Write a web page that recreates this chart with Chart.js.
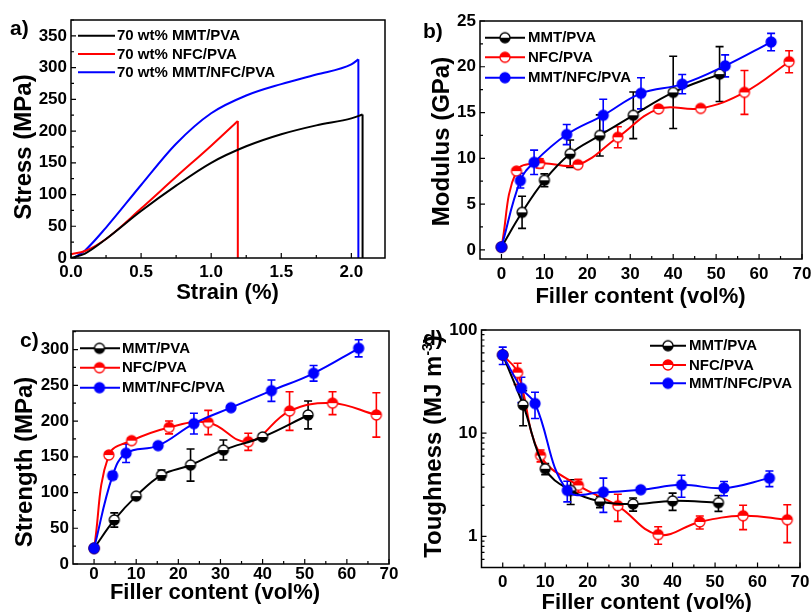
<!DOCTYPE html>
<html>
<head>
<meta charset="utf-8">
<script src="https://cdn.jsdelivr.net/npm/chart.js@4.4.1/dist/chart.umd.min.js"></script>
<style>
  html, body { margin: 0; padding: 0; background: #fff; overflow: hidden; width: 811px; height: 612px; }
  canvas { position: absolute; left: 0; top: 0; }
</style>
</head>
<body>
<canvas id="pa" width="811" height="630"></canvas>
<canvas id="pb" width="811" height="630"></canvas>
<canvas id="pc" width="811" height="630"></canvas>
<canvas id="pd" width="811" height="630"></canvas>
<script>
// ---- panel a: stress-strain curves (70 wt%) ----
const strainMMT = [0, 0.1, 0.25, 0.5, 0.75, 1.0, 1.25, 1.5, 1.75, 2.0, 2.08];
const stressMMT = [0, 7, 30, 74, 114, 150, 176, 195, 209, 220, 226];
const strainNFC = [0, 0.1, 0.25, 0.5, 0.75, 1.0, 1.19];
const stressNFC = [6, 11, 30, 78, 128, 177, 216];
const strainHyb = [0.02, 0.1, 0.25, 0.5, 0.75, 1.0, 1.25, 1.5, 1.75, 2.0, 2.05];
const stressHyb = [0, 12, 48, 115, 180, 228, 256, 274, 289, 305, 313];

// ---- filler content (vol%) of each film series ----
const fillerMMT = [0, 4.8, 10, 16, 22.9, 30.7, 40, 50.8];
const fillerNFC = [0, 3.5, 8.9, 17.8, 27.1, 36.6, 46.4, 56.6, 67.0];
const fillerHyb = [0, 4.4, 7.6, 15.2, 23.7, 32.5, 42.1, 52.1, 62.8];

// ---- panel b: modulus (GPa) ----
const modMMT = [0.3, 4.1, 7.6, 10.5, 12.5, 14.7, 17.2, 19.2];
const modMMTerr = [0, 1.75, 0.7, 1.5, 2.25, 2.55, 3.95, 3.0];
const modNFC = [0.3, 8.6, 9.45, 9.3, 12.3, 15.4, 15.45, 17.2, 20.55];
const modNFCerr = [0, 0.2, 0.5, 0.3, 1.15, 0.3, 0.2, 2.4, 1.2];
const modHyb = [0.3, 7.56, 9.56, 12.6, 14.7, 17.1, 18.1, 20.1, 22.7];
const modHybErr = [0, 0.8, 1.33, 1.1, 1.75, 1.7, 1.05, 1.2, 0.95];

// ---- panel c: strength (MPa) ----
const strMMT = [22, 61.6, 95, 124.5, 138.5, 159.5, 177.7, 208.5];
const strMMTerr = [0, 10, 3, 7, 22.5, 14, 4, 19.5];
const strNFC = [22, 152.5, 172.6, 191, 198, 171, 214, 225, 208.5];
const strNFCerr = [0, 4, 4, 9, 17, 12, 27, 16, 31];
const strHyb = [22, 123.6, 155, 165.6, 196.4, 218.7, 242.5, 266.8, 301.8];
const strHybErr = [0, 5, 13, 3, 14.5, 3, 15, 11, 12];

// ---- panel d: toughness (MJ m-3) ----
const tghMMT = [57.3, 18.8, 4.52, 2.79, 2.18, 2.06, 2.21, 2.12];
const tghMMTerr = [0, 7, 0.55, 0.75, 0.28, 0.3, 0.42, 0.37];
const tghNFC = [57.3, 38.6, 6.08, 3.12, 1.98, 1.04, 1.38, 1.585, 1.45];
const tghNFCerr = [0, 9, 0.8, 0.45, 0.58, 0.2, 0.2, 0.42, 0.58];
const tghHyb = [57.3, 27.3, 19.4, 2.79, 2.69, 2.83, 3.16, 2.94, 3.67];
const tghHybErr = [11, 7.5, 5.5, 0.63, 0.98, 0.1, 0.76, 0.46, 0.63];

const seriesNames = ['MMT/PVA', 'NFC/PVA', 'MMT/NFC/PVA'];
const curveNames = ['70 wt% MMT/PVA', '70 wt% NFC/PVA', '70 wt% MMT/NFC/PVA'];

const BLACK = '#000000', RED = '#ff0000', BLUE = '#0000ff';
const FONT = '"Liberation Sans", Arial, Helvetica, sans-serif';
Chart.defaults.font.family = FONT;
Chart.defaults.color = '#000';

function pts(xs, ys) { return xs.map((x, i) => ({ x: x, y: ys[i] })); }

// half filled circle markers
function marker(kind) {
  const c = document.createElement('canvas');
  c.width = 14; c.height = 14;
  const g = c.getContext('2d');
  const r = 5, cx = 7, cy = 7;
  let edge = BLACK, top = '#fff', bot = BLACK;
  if (kind == 'nfc') { edge = RED; top = RED; bot = '#fff'; }
  if (kind == 'hyb') { edge = BLUE; top = BLUE; bot = BLUE; }
  g.beginPath(); g.arc(cx, cy, r, Math.PI, 2 * Math.PI); g.closePath();
  g.fillStyle = top; g.fill();
  g.beginPath(); g.arc(cx, cy, r, 0, Math.PI); g.closePath();
  g.fillStyle = bot; g.fill();
  g.beginPath(); g.arc(cx, cy, r, 0, 2 * Math.PI);
  g.lineWidth = 1.3; g.strokeStyle = edge; g.stroke();
  return c;
}
const mkMMT = marker('mmt'), mkNFC = marker('nfc'), mkHyb = marker('hyb');

// error bars under the lines
const errorBars = {
  id: 'errorBars',
  beforeDatasetsDraw(chart) {
    const ctx = chart.ctx, ys = chart.scales.y;
    chart.data.datasets.forEach((ds, i) => {
      if (!ds.errors) return;
      const meta = chart.getDatasetMeta(i);
      ctx.save();
      ctx.strokeStyle = ds.borderColor;
      ctx.lineWidth = 1.6;
      meta.data.forEach((p, j) => {
        const e = ds.errors[j];
        if (!e) return;
        const v = ds.data[j].y;
        const t = ys.getPixelForValue(v + e), b = ys.getPixelForValue(v - e);
        ctx.beginPath();
        ctx.moveTo(p.x, t); ctx.lineTo(p.x, b);
        ctx.moveTo(p.x - 4, t); ctx.lineTo(p.x + 4, t);
        ctx.moveTo(p.x - 4, b); ctx.lineTo(p.x + 4, b);
        ctx.stroke();
      });
      ctx.restore();
    });
  }
};

// box round the plot with inward major/minor ticks
function makeFrame(f) {
  return {
    id: 'frame',
    afterDatasetsDraw(chart) {
      const { ctx, chartArea: a, scales: { x, y } } = chart;
      ctx.save();
      ctx.strokeStyle = '#000';
      ctx.lineWidth = 1.5;
      ctx.strokeRect(a.left, a.top, a.right - a.left, a.bottom - a.top);
      ctx.lineWidth = 1.2;
      ctx.beginPath();
      for (let k = 0; f.x0 + k * f.xStep / 2 <= x.max + 1e-9; k++) {
        const px = x.getPixelForValue(f.x0 + k * f.xStep / 2);
        ctx.moveTo(px, a.bottom); ctx.lineTo(px, a.bottom - (k % 2 ? 3 : 5));
      }
      if (f.log) {
        for (let d = -1; d <= 2; d++) {
          for (let m = 1; m <= 9; m++) {
            const v = m * Math.pow(10, d);
            if (v < y.min || v > y.max) continue;
            const py = y.getPixelForValue(v);
            ctx.moveTo(a.left, py); ctx.lineTo(a.left + (m == 1 ? 5 : 3), py);
          }
        }
      } else {
        for (let k = 0; f.y0 + k * f.yStep / 2 <= y.max + 1e-9; k++) {
          const py = y.getPixelForValue(f.y0 + k * f.yStep / 2);
          ctx.moveTo(a.left, py); ctx.lineTo(a.left + (k % 2 ? 3 : 5), py);
        }
      }
      ctx.stroke();
      ctx.restore();
    }
  };
}

// panel letter, axis titles and legend
function makeDecor(o) {
  return {
    id: 'decor',
    afterDraw(chart) {
      const ctx = chart.ctx;
      ctx.save();
      ctx.fillStyle = '#000';
      ctx.textAlign = 'left';
      ctx.textBaseline = 'alphabetic';
      ctx.font = 'bold 21px ' + FONT;
      ctx.fillText(o.label[0], o.label[1], o.label[2]);

      ctx.font = 'bold 22px ' + FONT;
      ctx.textAlign = 'center';
      ctx.fillText(o.xTitle[0], o.xTitle[1], o.xTitle[2]);

      // y title, possibly with a superscript part
      ctx.save();
      ctx.translate(o.yTitle.x, o.yTitle.y);
      ctx.rotate(-Math.PI / 2);
      ctx.textAlign = 'left';
      let w = 0;
      o.yTitle.parts.forEach(p => {
        ctx.font = 'bold ' + (p[1] ? 14 : 24) + 'px ' + FONT;
        w += ctx.measureText(p[0]).width;
      });
      let cx = -w / 2;
      o.yTitle.parts.forEach(p => {
        ctx.font = 'bold ' + (p[1] ? 14 : 24) + 'px ' + FONT;
        ctx.fillText(p[0], cx, p[1] ? -9 : 0);
        cx += ctx.measureText(p[0]).width;
      });
      ctx.restore();

      const L = o.legend;
      ctx.font = 'bold 15px ' + FONT;
      ctx.textAlign = 'left';
      ctx.textBaseline = 'middle';
      L.items.forEach((it, i) => {
        const yy = L.rows[i];
        ctx.strokeStyle = it[1];
        ctx.lineWidth = 2;
        ctx.beginPath(); ctx.moveTo(L.x0, yy); ctx.lineTo(L.x1, yy); ctx.stroke();
        if (it[2]) ctx.drawImage(it[2], L.mx - 7, yy - 7);
        ctx.fillStyle = '#000';
        ctx.fillText(it[0], L.tx, yy + 0.5);
      });
      ctx.restore();
    }
  };
}

function panel(id, area, xs, ys, datasets, frame, decor) {
  const W = 811, H = 630;
  const tickFont = { family: FONT, size: 17, weight: 'bold' };
  return new Chart(document.getElementById(id), {
    type: 'line',
    data: { datasets: datasets },
    options: {
      responsive: false,
      animation: false,
      events: [],
      devicePixelRatio: 1,
      layout: { padding: { left: area[0] - 40, top: area[1], right: W - area[2], bottom: H - area[3] - 40 } },
      plugins: { legend: { display: false }, tooltip: { enabled: false } },
      scales: {
        x: {
          type: 'linear', position: 'bottom', min: xs.min, max: xs.max,
          grid: { display: false, drawTicks: false }, border: { display: false },
          ticks: { font: tickFont, color: '#000', padding: xs.pad, autoSkip: false, maxRotation: 0, minRotation: 0,
                   callback: xs.fmt },
          afterBuildTicks(s) { s.ticks = xs.ticks.map(v => ({ value: v })); },
          afterFit(s) { s.height = 40; s.paddingLeft = 0; s.paddingRight = 0; }
        },
        y: {
          type: ys.type || 'linear', position: 'left', min: ys.min, max: ys.max,
          grid: { display: false, drawTicks: false }, border: { display: false },
          ticks: { font: tickFont, color: '#000', padding: 4, autoSkip: false, callback: v => String(v) },
          afterBuildTicks(s) { s.ticks = ys.ticks.map(v => ({ value: v })); },
          afterFit(s) { s.width = 40; s.paddingTop = 0; s.paddingBottom = 0; }
        }
      }
    },
    plugins: [errorBars, makeFrame(frame), makeDecor(decor)]
  });
}

function series(xs, ys, errs, color, mk, order) {
  return { data: pts(xs, ys), errors: errs, borderColor: color, backgroundColor: color, borderWidth: 2,
           tension: 0.4, pointStyle: mk, pointRadius: 5, order: order };
}
function curve(xs, ys, color) {
  return { data: pts(xs, ys), borderColor: color, borderWidth: 2, pointRadius: 0, cubicInterpolationMode: 'monotone' };
}
function fracture(xs, ys, color) {
  const n = xs.length - 1;
  return { data: [{ x: xs[n], y: ys[n] }, { x: xs[n], y: 0 }], borderColor: color, borderWidth: 2, pointRadius: 0, tension: 0 };
}

const fillerTicks = [0, 10, 20, 30, 40, 50, 60, 70];

panel('pa', [71, 20, 385, 258],
  { min: 0, max: 2.24, ticks: [0, 0.5, 1, 1.5, 2], pad: 4, fmt: v => v.toFixed(1) },
  { min: 0, max: 375, ticks: [0, 50, 100, 150, 200, 250, 300, 350] },
  [curve(strainMMT, stressMMT, BLACK), fracture(strainMMT, stressMMT, BLACK),
   curve(strainNFC, stressNFC, RED), fracture(strainNFC, stressNFC, RED),
   curve(strainHyb, stressHyb, BLUE), fracture(strainHyb, stressHyb, BLUE)],
  { x0: 0, xStep: 0.5, y0: 0, yStep: 50 },
  { label: ['a)', 10, 35], xTitle: ['Strain (%)', 227.5, 299], yTitle: { x: 31, y: 147, parts: [['Stress (MPa)']] },
    legend: { x0: 78, x1: 115, mx: 0, tx: 117, rows: [35.7, 54, 72.3],
              items: [[curveNames[0], BLACK], [curveNames[1], RED], [curveNames[2], BLUE]] } });

panel('pb', [480, 21, 802, 259],
  { min: -5, max: 70, ticks: fillerTicks, pad: 5.5, fmt: v => String(v) },
  { min: -1, max: 25, ticks: [0, 5, 10, 15, 20, 25] },
  [series(fillerMMT, modMMT, modMMTerr, BLACK, mkMMT, 2),
   series(fillerNFC, modNFC, modNFCerr, RED, mkNFC, 3),
   series(fillerHyb, modHyb, modHybErr, BLUE, mkHyb, 1)],
  { x0: 0, xStep: 10, y0: 0, yStep: 5 },
  { label: ['b)', 423, 38], xTitle: ['Filler content (vol%)', 640.5, 302.5], yTitle: { x: 449, y: 141.5, parts: [['Modulus (GPa)']] },
    legend: { x0: 485, x1: 525, mx: 505, tx: 528, rows: [37.7, 57.3, 77.7],
              items: [[seriesNames[0], BLACK, mkMMT], [seriesNames[1], RED, mkNFC], [seriesNames[2], BLUE, mkHyb]] } });

panel('pc', [73, 331, 389, 564],
  { min: -5, max: 70, ticks: fillerTicks, pad: 0, fmt: v => String(v) },
  { min: 0, max: 326, ticks: [0, 50, 100, 150, 200, 250, 300] },
  [series(fillerMMT, strMMT, strMMTerr, BLACK, mkMMT, 2),
   series(fillerNFC, strNFC, strNFCerr, RED, mkNFC, 3),
   series(fillerHyb, strHyb, strHybErr, BLUE, mkHyb, 1)],
  { x0: 0, xStep: 10, y0: 0, yStep: 50 },
  { label: ['c)', 20, 346.5], xTitle: ['Filler content (vol%)', 215, 599], yTitle: { x: 32, y: 462, parts: [['Strength (MPa)']] },
    legend: { x0: 80, x1: 120, mx: 99.5, tx: 122, rows: [348.3, 367.7, 387.7],
              items: [[seriesNames[0], BLACK, mkMMT], [seriesNames[1], RED, mkNFC], [seriesNames[2], BLUE, mkHyb]] } });

panel('pd', [481.5, 330, 800, 567.5],
  { min: -5, max: 70, ticks: fillerTicks, pad: 4.3, fmt: v => String(v) },
  { type: 'logarithmic', min: 0.5, max: 100, ticks: [1, 10, 100] },
  [series(fillerMMT, tghMMT, tghMMTerr, BLACK, mkMMT, 2),
   series(fillerNFC, tghNFC, tghNFCerr, RED, mkNFC, 3),
   series(fillerHyb, tghHyb, tghHybErr, BLUE, mkHyb, 1)],
  { x0: 0, xStep: 10, log: true },
  { label: ['d)', 423, 345], xTitle: ['Filler content (vol%)', 646.7, 609],
    yTitle: { x: 440.5, y: 446.5, parts: [['Toughness (MJ m'], ['-3', true], [')']] },
    legend: { x0: 650, x1: 686, mx: 668, tx: 689, rows: [345.7, 365, 383.3],
              items: [[seriesNames[0], BLACK, mkMMT], [seriesNames[1], RED, mkNFC], [seriesNames[2], BLUE, mkHyb]] } });
</script>
</body>
</html>
